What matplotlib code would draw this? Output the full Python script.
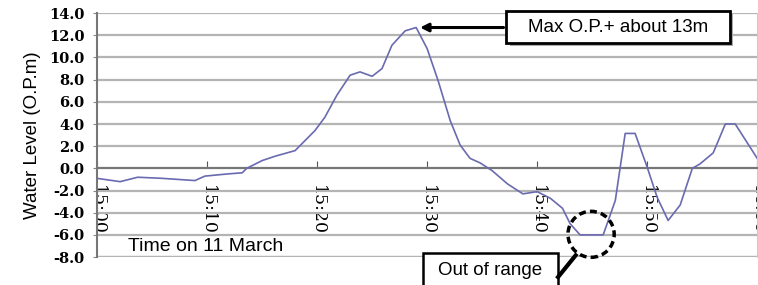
import matplotlib
matplotlib.use("Agg")
import matplotlib.pyplot as plt
from matplotlib.patches import Ellipse, Rectangle

# minutes after 15:00 and water level (O.P. m)
minutes = [0, 2.1, 3.7, 5.9, 8.9, 9.8, 11.9, 13.2, 13.6, 15.0, 16.2, 17.1, 18.0,
           18.5, 19.8, 20.7, 21.8, 23.0, 23.9, 25.0, 25.9, 26.8, 28.0, 29.0,
           30.0, 31.0, 32.1, 33.0, 33.9, 34.8, 35.9, 37.3, 38.7, 40.0, 41.2,
           42.3, 43.0, 43.9, 46.0, 47.1, 48.0, 48.9, 50.0, 50.9, 51.9, 53.0,
           54.1, 54.8, 56.0, 57.1, 58.0, 60.0]
level = [-0.9, -1.2, -0.8, -0.9, -1.1, -0.7, -0.5, -0.4, 0.0, 0.7, 1.1, 1.35, 1.6,
         2.1, 3.4, 4.6, 6.6, 8.4, 8.7, 8.3, 9.0, 11.1, 12.4, 12.7,
         10.8, 7.9, 4.3, 2.1, 0.9, 0.5, -0.2, -1.4, -2.3, -2.1, -2.7,
         -3.6, -5.0, -6.0, -6.0, -2.9, 3.15, 3.15, 0.1, -2.6, -4.7, -3.3,
         0.0, 0.4, 1.4, 4.0, 4.0, 0.9]

x_ticks = [0, 10, 20, 30, 40, 50, 60]
x_labels = ["15:00", "15:10", "15:20", "15:30", "15:40", "15:50", "16:00"]
y_ticks = [14, 12, 10, 8, 6, 4, 2, 0, -2, -4, -6, -8]
y_labels = ["%.1f" % v for v in y_ticks]

fig = plt.figure(figsize=(7.58, 2.85), dpi=100)
ax = fig.add_axes([0.128, 0.098, 0.871, 0.856])

ax.plot(minutes, level, color="#6a6ab0", lw=1.2, zorder=3)

ax.set_xlim(0, 60)
ax.set_ylim(-8, 14)
ax.set_yticks(y_ticks)
ax.set_yticklabels(y_labels)
ax.set_xticks(x_ticks)
ax.set_xticklabels(x_labels)
ax.tick_params(axis="x", direction="in", length=5, pad=12, color="#555555",
               labelrotation=270)
ax.tick_params(axis="y", direction="out", length=3, pad=6, color="#888888")

ax.yaxis.grid(True, color="#b4b4b4", lw=1.6)
ax.set_axisbelow(True)
ax.spines["bottom"].set_position(("data", 0))
ax.spines["bottom"].set_color("#777777")
ax.spines["bottom"].set_linewidth(1.5)
ax.spines["left"].set_color("#777777")
ax.spines["left"].set_linewidth(1.5)
ax.spines["top"].set_visible(False)
ax.spines["right"].set_color("#cccccc")
ax.axhline(-8, color="#b4b4b4", lw=1.6, zorder=0)

ax.set_ylabel("Water Level (O.P.m)", family="Liberation Sans", fontsize=13.5, labelpad=6)

ax.text(2.8, -7.05, "Time on 11 March", family="Liberation Sans", fontsize=14,
        va="center", ha="left")

# max annotation box with shadow
ax.add_patch(Rectangle((37.5, 11.0), 20.3, 2.95, fc="#aaaaaa", ec="none",
                       clip_on=False, zorder=4))
ax.add_patch(Rectangle((37.2, 11.26), 20.3, 2.9, fc="white", ec="black", lw=2,
                       clip_on=False, zorder=5))
ax.text(47.35, 12.7, "Max O.P.+ about 13m", family="Liberation Sans", fontsize=13.5,
        ha="center", va="center", zorder=6, clip_on=False)
ax.annotate("", xy=(29.1, 12.7), xytext=(37.2, 12.7),
            arrowprops=dict(arrowstyle="-|>", color="black", lw=2.2,
                            mutation_scale=12), zorder=6)

# out of range marker
ax.add_patch(Ellipse((44.9, -5.95), 4.2, 4.15, fc="none", ec="black", lw=2.5,
                     ls=(0, (2, 1.2)), zorder=6, clip_on=False))
ax.add_patch(Rectangle((29.6, -10.8), 12.3, 3.14, fc="white", ec="black", lw=1.8,
                       clip_on=False, zorder=5))
ax.text(35.75, -9.2, "Out of range", family="Liberation Sans", fontsize=13.5,
        ha="center", va="center", zorder=6, clip_on=False)
ax.plot([41.9, 43.5], [-9.8, -7.84], color="black", lw=3, clip_on=False, zorder=6)

# tick label fonts: set after a first draw so the ticks already exist
fig.canvas.draw()
for lab in ax.get_xticklabels():
    lab.set_family("DejaVu Serif")
    lab.set_fontsize(12.5)
    lab.set_rotation(270)
    lab.set_verticalalignment("top")
    lab.set_horizontalalignment("center")
for lab in ax.get_yticklabels():
    lab.set_family("DejaVu Serif")
    lab.set_fontweight("bold")
    lab.set_fontsize(10.5)

fig.savefig("out.png", dpi=100)
